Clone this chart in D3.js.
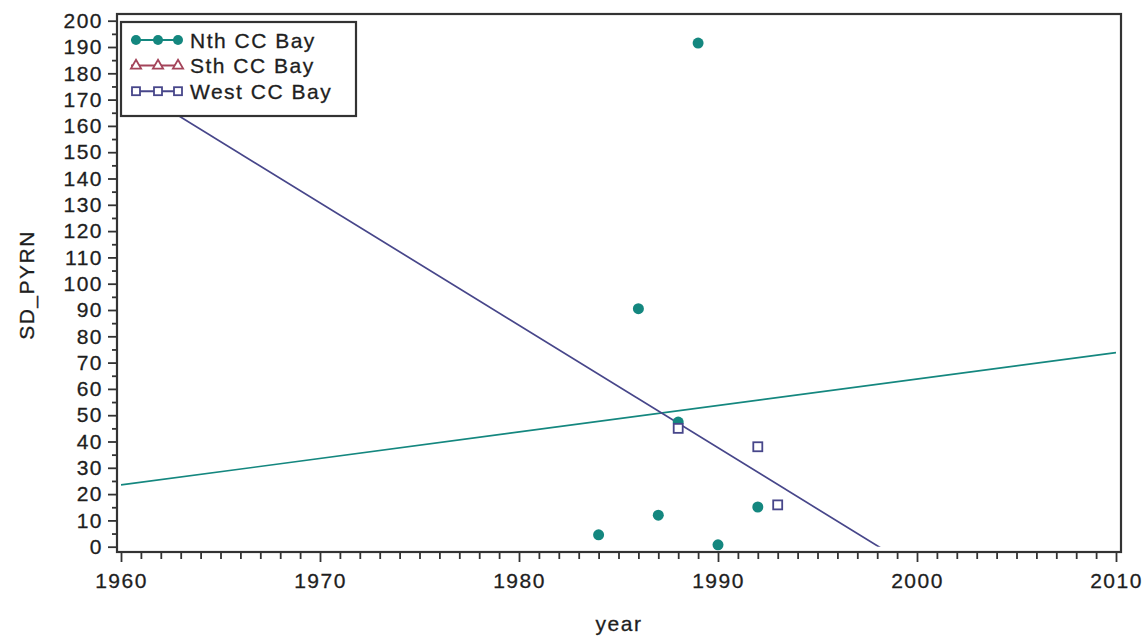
<!DOCTYPE html>
<html>
<head>
<meta charset="utf-8">
<script src="https://cdn.jsdelivr.net/npm/d3@7"></script>
<style>
  body { margin: 0; background: #fff; }
  text { font-family: "Liberation Sans", Arial, sans-serif; fill: #1e1e1e; stroke: #1e1e1e; stroke-width: 0.3px; letter-spacing: 1.5px; }
</style>
</head>
<body>
<div id="container"></div>
<script>
// set the dimensions of the canvas/graph
var width = 1147;
var height = 641;

//-----------------------------DATA------------------------------//
var seriesNames = ["Nth CC Bay", "Sth CC Bay", "West CC Bay"];
var seriesColors = ["#14877f", "#a4445a", "#47468a"];

var nthYears = [1984, 1986, 1987, 1988, 1989, 1990, 1992];
var nthValues = [4.5, 90.5, 12, 47.4, 191.5, 0.7, 15.1];

var sthYears = [];
var sthValues = [];

var westYears = [1988, 1992, 1993];
var westValues = [45, 38, 15.9];

var xTicks = [1960, 1970, 1980, 1990, 2000, 2010];
var yTicks = [0, 10, 20, 30, 40, 50, 60, 70, 80, 90, 100, 110, 120, 130, 140, 150, 160, 170, 180, 190, 200];

var svg = d3.select("div#container").append("svg")
    .attr("width", width)
    .attr("height", height);

//----------------------------SCALES-----------------------------//
var xScale = d3.scaleLinear().domain([1960, 2010]).range([121, 1116]);
var yScale = d3.scaleLinear().domain([0, 200]).range([546.7, 20.7]);

var frame = {left: 117, right: 1121, top: 14, bottom: 552};

//-----------------------------AXES------------------------------//
var xMinor = d3.range(1960, 2011).filter(function(d) { return d % 10 != 0; });
var yMinor = d3.range(5, 200, 10);

var xaxis = d3.axisBottom(xScale).tickValues(xTicks).tickSize(10).tickPadding(11).tickFormat(d3.format("d"));
var xaxisMinor = d3.axisBottom(xScale).tickValues(xMinor).tickSize(7).tickFormat("");
var yaxis = d3.axisLeft(yScale).tickValues(yTicks).tickSize(9).tickPadding(5);
var yaxisMinor = d3.axisLeft(yScale).tickValues(yMinor).tickSize(5).tickFormat("");

function styleAxis(g) {
  g.select(".domain").remove();
  g.selectAll("line").attr("stroke", "#333").attr("stroke-width", 1.8);
  g.selectAll("text").attr("font-size", 21).attr("font-family", null).attr("fill", null);
}

svg.append("g").attr("transform", "translate(0," + frame.bottom + ")").call(xaxis).call(styleAxis);
svg.append("g").attr("transform", "translate(0," + frame.bottom + ")").call(xaxisMinor).call(styleAxis);
svg.append("g").attr("transform", "translate(" + frame.left + ",0)").call(yaxis).call(styleAxis);
svg.append("g").attr("transform", "translate(" + frame.left + ",0)").call(yaxisMinor).call(styleAxis);

svg.append("rect")
    .attr("x", frame.left)
    .attr("y", frame.top)
    .attr("width", frame.right - frame.left)
    .attr("height", frame.bottom - frame.top)
    .attr("fill", "none")
    .attr("stroke", "#333")
    .attr("stroke-width", 2.2);

svg.append("text")
    .attr("x", (frame.left + frame.right) / 2)
    .attr("y", 631)
    .attr("text-anchor", "middle")
    .attr("font-size", 21)
    .text("year");

svg.append("text")
    .attr("transform", "translate(34," + ((frame.top + frame.bottom) / 2 + 2) + ") rotate(-90)")
    .attr("text-anchor", "middle")
    .attr("font-size", 21)
    .text("SD_PYRN");

//----------------------------FIT LINES---------------------------//
svg.append("clipPath").attr("id", "plotclip")
  .append("rect")
    .attr("x", xScale(1960))
    .attr("y", yScale(200))
    .attr("width", xScale(2010) - xScale(1960))
    .attr("height", yScale(0) - yScale(200));

// least squares line, like the regression interpolation in the original
function fit(xs, ys) {
  var mx = d3.mean(xs), my = d3.mean(ys);
  var sxy = d3.sum(xs, function(x, i) { return (x - mx) * (ys[i] - my); });
  var sxx = d3.sum(xs, function(x) { return (x - mx) * (x - mx); });
  var b = sxy / sxx;
  return xScale.domain().map(function(x) { return [x, my + b * (x - mx)]; });
}

var line = d3.line()
    .x(function(d) { return xScale(d[0]); })
    .y(function(d) { return yScale(d[1]); });

var fits = [[nthYears, nthValues, 0], [westYears, westValues, 2]];
fits.forEach(function(f) {
  svg.append("path")
      .attr("d", line(fit(f[0], f[1])))
      .attr("clip-path", "url(#plotclip)")
      .attr("fill", "none")
      .attr("stroke", seriesColors[f[2]])
      .attr("stroke-width", 1.7);
});

//----------------------------POINTS------------------------------//
svg.selectAll(".nth")
    .data(nthYears)
    .enter()
    .append("circle")
    .attr("cx", function(d) { return xScale(d); })
    .attr("cy", function(d, i) { return yScale(nthValues[i]); })
    .attr("r", 5.5)
    .attr("fill", seriesColors[0]);

svg.selectAll(".sth")
    .data(sthYears)
    .enter()
    .append("path")
    .attr("d", d3.symbol(d3.symbolTriangle, 50))
    .attr("transform", function(d, i) { return "translate(" + xScale(d) + "," + yScale(sthValues[i]) + ")"; })
    .attr("fill", "none")
    .attr("stroke", seriesColors[1]);

svg.selectAll(".west")
    .data(westYears)
    .enter()
    .append("rect")
    .attr("x", function(d) { return xScale(d) - 4.5; })
    .attr("y", function(d, i) { return yScale(westValues[i]) - 4.5; })
    .attr("width", 9)
    .attr("height", 9)
    .attr("fill", "#fff")
    .attr("stroke", seriesColors[2])
    .attr("stroke-width", 1.8);

//----------------------------LEGEND------------------------------//
var legend = svg.append("g");

legend.append("rect")
    .attr("x", 121)
    .attr("y", 22)
    .attr("width", 235)
    .attr("height", 94)
    .attr("fill", "#fff")
    .attr("stroke", "#333")
    .attr("stroke-width", 2.2);

var rows = legend.selectAll(".row")
    .data(seriesNames)
    .enter()
    .append("g")
    .attr("transform", function(d, i) { return "translate(0," + (40 + i * 25.6) + ")"; });

rows.append("line")
    .attr("x1", 131)
    .attr("x2", 181)
    .attr("stroke", function(d, i) { return seriesColors[i]; })
    .attr("stroke-width", 2);

var markX = [136, 158, 178];
rows.each(function(d, i) {
  var g = d3.select(this);
  markX.forEach(function(mx) {
    if (i == 0) {
      g.append("circle").attr("cx", mx).attr("r", 5).attr("fill", seriesColors[0]);
    } else if (i == 1) {
      g.append("path")
          .attr("d", d3.symbol(d3.symbolTriangle, 45))
          .attr("transform", "translate(" + mx + ",0)")
          .attr("fill", "#fff")
          .attr("stroke", seriesColors[1])
          .attr("stroke-width", 1.8);
    } else {
      g.append("rect")
          .attr("x", mx - 4).attr("y", -4)
          .attr("width", 8).attr("height", 8)
          .attr("fill", "#fff")
          .attr("stroke", seriesColors[2])
          .attr("stroke-width", 1.8);
    }
  });
});

rows.append("text")
    .attr("x", 190)
    .attr("dy", "0.36em")
    .attr("font-size", 21)
    .text(function(d) { return d; });
</script>
</body>
</html>
